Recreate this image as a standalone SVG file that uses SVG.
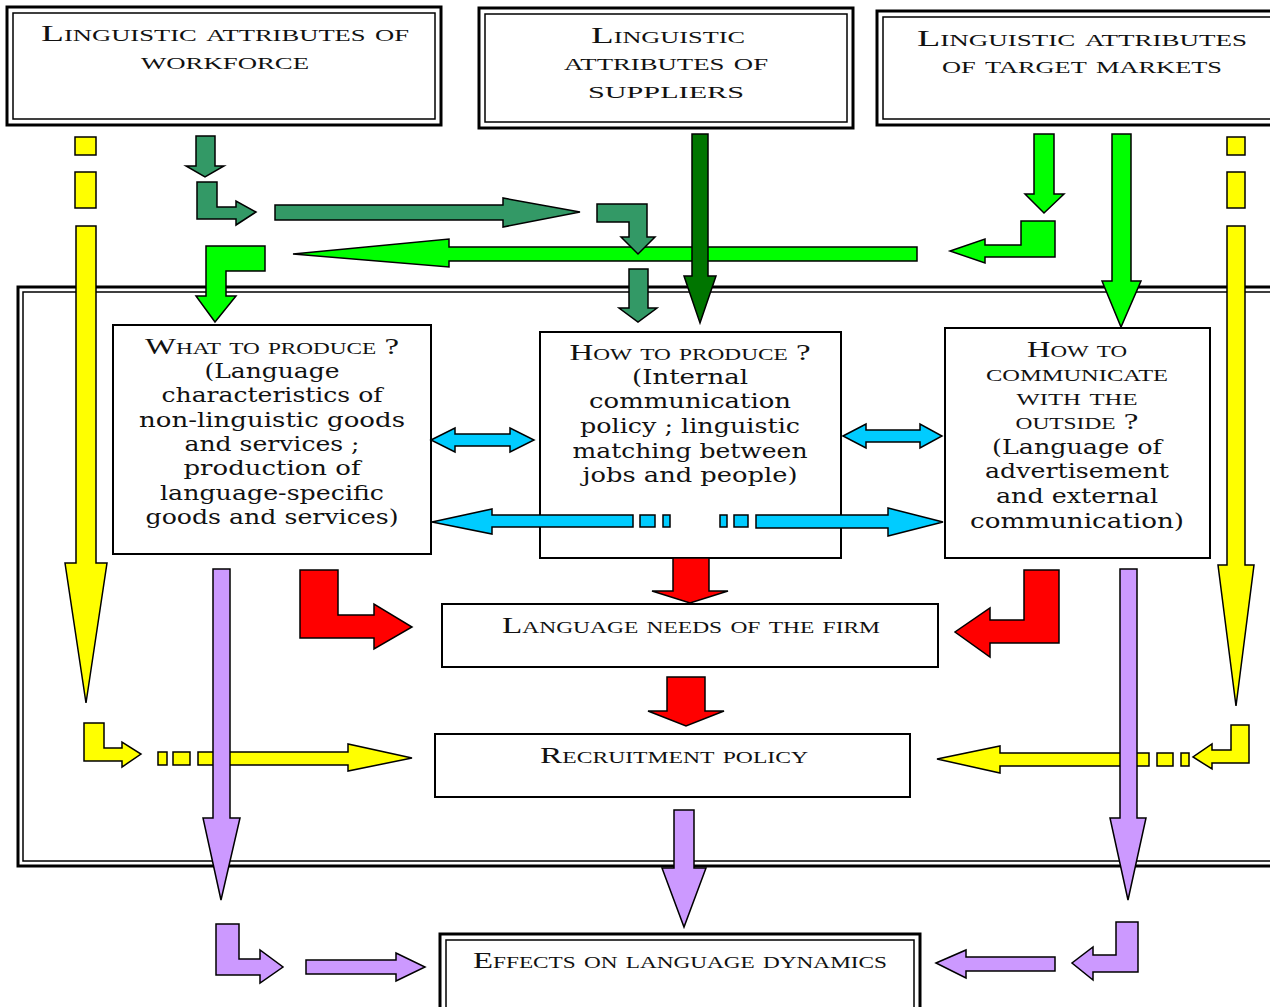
<svg xmlns="http://www.w3.org/2000/svg" width="1270" height="1007" viewBox="0 0 1270 1007">
<style>
.sc{font-family:"Liberation Serif","Times New Roman",serif;font-variant:small-caps;font-size:24px;fill:#111;text-anchor:middle}
.b{font-family:"DejaVu Serif","Liberation Serif",serif;font-size:21px;fill:#111;text-anchor:middle}
.box{fill:#fff;stroke:#000;stroke-width:2}
.o{fill:none;stroke:#000;stroke-width:3}
.i{fill:none;stroke:#000;stroke-width:1.5}
.a{stroke:#000;stroke-width:1.5;stroke-linejoin:miter}
.sg{fill:#339966}.dg{fill:#007500}.bg{fill:#00ff00}.y{fill:#ffff00}.bl{fill:#00ccff}.r{fill:#ff0000}.p{fill:#cc99ff}
</style>
<rect width="1270" height="1007" fill="#fff"/>
<g id="frame">
<rect x="18" y="287" width="1280" height="579" class="o"/>
<rect x="23" y="292" width="1270" height="569" class="i"/>
</g>
<g id="workforce">
<rect x="7" y="7" width="434" height="118" class="o" fill="#fff"/>
<rect x="13" y="13" width="422" height="106" class="i"/>
<text class="sc" x="225" y="41" textLength="368" lengthAdjust="spacingAndGlyphs">Linguistic attributes of</text>
<text class="sc" x="225" y="69" textLength="168" lengthAdjust="spacingAndGlyphs">workforce</text>
</g>
<g id="suppliers">
<rect x="479" y="8" width="374" height="120" class="o" fill="#fff"/>
<rect x="485" y="14" width="362" height="108" class="i"/>
<text class="sc" x="668" y="43" textLength="154" lengthAdjust="spacingAndGlyphs">Linguistic</text>
<text class="sc" x="666" y="70" textLength="204" lengthAdjust="spacingAndGlyphs">attributes of</text>
<text class="sc" x="666" y="98" textLength="156" lengthAdjust="spacingAndGlyphs">suppliers</text>
</g>
<g id="markets">
<rect x="877" y="11" width="410" height="114" class="o" fill="#fff"/>
<rect x="883" y="17" width="400" height="102" class="i"/>
<text class="sc" x="1082" y="46" textLength="330" lengthAdjust="spacingAndGlyphs">Linguistic attributes</text>
<text class="sc" x="1082" y="73" textLength="280" lengthAdjust="spacingAndGlyphs">of target markets</text>
</g>
<g id="what">
<rect x="113" y="325" width="318" height="229" class="box"/>
<text class="sc" x="272" y="354" textLength="254" lengthAdjust="spacingAndGlyphs">What to produce ?</text>
<text class="b" x="272" y="378" textLength="135" lengthAdjust="spacingAndGlyphs">(Language</text>
<text class="b" x="272" y="402" textLength="221" lengthAdjust="spacingAndGlyphs">characteristics of</text>
<text class="b" x="272" y="427" textLength="266" lengthAdjust="spacingAndGlyphs">non-linguistic goods</text>
<text class="b" x="272" y="451" textLength="175" lengthAdjust="spacingAndGlyphs">and services ;</text>
<text class="b" x="272" y="475" textLength="177" lengthAdjust="spacingAndGlyphs">production of</text>
<text class="b" x="272" y="500" textLength="224" lengthAdjust="spacingAndGlyphs">language-specific</text>
<text class="b" x="272" y="524" textLength="253" lengthAdjust="spacingAndGlyphs">goods and services)</text>
</g>
<g id="how">
<rect x="540" y="332" width="301" height="226" class="box"/>
<text class="sc" x="690" y="360" textLength="241" lengthAdjust="spacingAndGlyphs">How to produce ?</text>
<text class="b" x="690" y="384" textLength="116" lengthAdjust="spacingAndGlyphs">(Internal</text>
<text class="b" x="690" y="408" textLength="202" lengthAdjust="spacingAndGlyphs">communication</text>
<text class="b" x="690" y="433" textLength="220" lengthAdjust="spacingAndGlyphs">policy ; linguistic</text>
<text class="b" x="690" y="458" textLength="235" lengthAdjust="spacingAndGlyphs">matching between</text>
<text class="b" x="690" y="482" textLength="215" lengthAdjust="spacingAndGlyphs">jobs and people)</text>
</g>
<g id="communicate">
<rect x="945" y="328" width="265" height="230" class="box"/>
<text class="sc" x="1077" y="357" textLength="100" lengthAdjust="spacingAndGlyphs">How to</text>
<text class="sc" x="1077" y="381" textLength="182" lengthAdjust="spacingAndGlyphs">communicate</text>
<text class="sc" x="1077" y="405" textLength="121" lengthAdjust="spacingAndGlyphs">with the</text>
<text class="sc" x="1077" y="429" textLength="123" lengthAdjust="spacingAndGlyphs">outside ?</text>
<text class="b" x="1077" y="454" textLength="170" lengthAdjust="spacingAndGlyphs">(Language of</text>
<text class="b" x="1077" y="478" textLength="184" lengthAdjust="spacingAndGlyphs">advertisement</text>
<text class="b" x="1077" y="503" textLength="162" lengthAdjust="spacingAndGlyphs">and external</text>
<text class="b" x="1077" y="528" textLength="214" lengthAdjust="spacingAndGlyphs">communication)</text>
</g>
<g id="needs">
<rect x="442" y="604" width="496" height="63" class="box"/>
<text class="sc" x="691" y="633" textLength="378" lengthAdjust="spacingAndGlyphs">Language needs of the firm</text>
</g>
<g id="recruitment">
<rect x="435" y="734" width="475" height="63" class="box"/>
<text class="sc" x="674" y="763" textLength="268" lengthAdjust="spacingAndGlyphs">Recruitment policy</text>
</g>
<g id="effects">
<rect x="440" y="934" width="480" height="80" class="o" fill="#fff"/>
<rect x="446" y="940" width="468" height="68" class="i"/>
<text class="sc" x="680" y="968" textLength="414" lengthAdjust="spacingAndGlyphs">Effects on language dynamics</text>
</g>
<g id="connectors" class="a">
<!-- yellow -->
<rect x="75" y="137" width="21" height="18" class="y a"/>
<rect x="75" y="172" width="21" height="36" class="y a"/>
<polygon class="y" points="76,226 96,226 96,563 107,563 86,703 65,563 76,563"/>
<rect x="1227" y="137" width="18" height="18" class="y a"/>
<rect x="1227" y="172" width="18" height="36" class="y a"/>
<polygon class="y" points="1227,226 1245,226 1245,565 1254,565 1236,706 1218,565 1227,565"/>
<polygon class="y" points="84,723 104,723 104,748 122,748 122,742 141,754 122,767 122,761 84,761"/>
<rect x="158" y="752" width="9" height="13" class="y a"/>
<rect x="173" y="752" width="17" height="13" class="y a"/>
<polygon class="y" points="198,752 348,752 348,744 412,758 348,771 348,765 198,765"/>
<polygon class="y" points="937,759 1000,746 1000,753 1149,753 1149,766 1000,766 1000,773"/>
<rect x="1157" y="753" width="16" height="13" class="y a"/>
<rect x="1181" y="753" width="8" height="13" class="y a"/>
<polygon class="y" points="1231,725 1249,725 1249,763 1212,763 1212,769 1193,757 1212,744 1212,750 1231,750"/>
<!-- sea green -->
<polygon class="sg" points="196,136 215,136 215,166 224,166 205,177 186,166 196,166"/>
<polygon class="sg" points="197,182 217,182 217,207 236,207 236,201 256,212 236,225 236,219 197,219"/>
<polygon class="sg" points="275,205 503,205 503,198 580,212 503,227 503,220 275,220"/>
<!-- bright green -->
<polygon class="bg" points="293,254 449,239 449,247 917,247 917,261 449,261 449,267"/>
<polygon class="sg" points="597,204 647,204 647,237 655,237 638,254 621,237 629,237 629,222 597,222"/>
<polygon class="sg" points="629,269 648,269 648,308 657,308 638,322 619,308 629,308"/>
<polygon class="dg" points="692,134 708,134 708,276 716,276 700,323 684,276 692,276"/>
<polygon class="bg" points="206,246 265,246 265,271 226,271 226,296 236,296 215,322 196,296 206,296"/>
<polygon class="bg" points="1034,134 1054,134 1054,194 1064,194 1044,213 1025,194 1034,194"/>
<polygon class="bg" points="1021,221 1055,221 1055,257 985,257 985,263 950,251 985,239 985,245 1021,245"/>
<polygon class="bg" points="1112,134 1131,134 1131,281 1141,281 1121,327 1102,281 1112,281"/>
<!-- blue -->
<polygon class="bl" points="431,440 455,428 455,434 510,434 510,428 534,440 510,452 510,446 455,446 455,452"/>
<polygon class="bl" points="843,436 866,424 866,430 920,430 920,424 942,436 920,448 920,442 866,442 866,448"/>
<polygon class="bl" points="432,522 492,509 492,515 633,515 633,527 492,527 492,534"/>
<rect x="640" y="515" width="15" height="12" class="bl a"/>
<rect x="663" y="515" width="7" height="12" class="bl a"/>
<rect x="720" y="515" width="7" height="12" class="bl a"/>
<rect x="734" y="515" width="14" height="12" class="bl a"/>
<polygon class="bl" points="756,515 888,515 888,508 943,522 888,536 888,528 756,528"/>
<!-- red -->
<polygon class="r" points="673,558 709,558 709,591 728,591 690,603 652,591 673,591"/>
<polygon class="r" points="300,570 338,570 338,615 374,615 374,604 412,627 374,649 374,638 300,638"/>
<polygon class="r" points="1024,570 1059,570 1059,643 990,643 990,657 955,632 990,608 990,620 1024,620"/>
<polygon class="r" points="667,677 705,677 705,711 724,711 686,726 648,711 667,711"/>
<!-- purple -->
<polygon class="p" points="213,569 230,569 230,818 240,818 221,900 203,818 213,818"/>
<polygon class="p" points="1120,569 1137,569 1137,818 1146,818 1128,900 1110,818 1120,818"/>
<polygon class="p" points="674,810 694,810 694,868 706,868 684,927 662,868 674,868"/>
<polygon class="p" points="216,924 239,924 239,959 260,959 260,950 283,967 260,983 260,975 216,975"/>
<polygon class="p" points="306,960 396,960 396,953 425,967 396,981 396,974 306,974"/>
<polygon class="p" points="936,963 966,950 966,957 1055,957 1055,971 966,971 966,978"/>
<polygon class="p" points="1116,922 1138,922 1138,972 1093,972 1093,980 1072,963 1093,947 1093,955 1116,955"/>
</g>
</svg>
